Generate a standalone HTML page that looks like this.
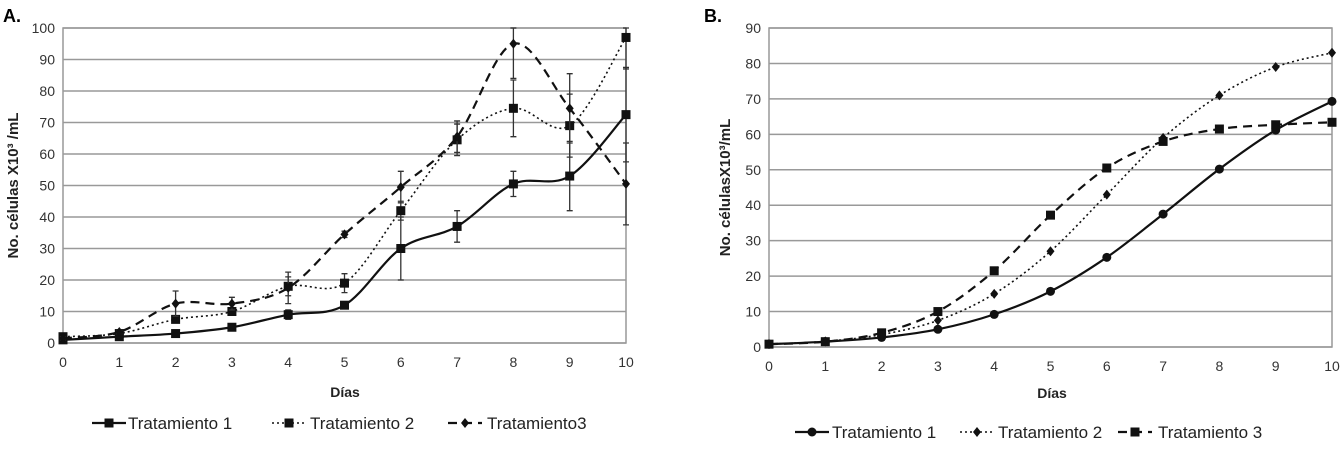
<!DOCTYPE html>
<html><head><meta charset="utf-8">
<style>
body{margin:0;background:#fff;width:1344px;height:454px;overflow:hidden;font-family:"Liberation Sans",sans-serif}
svg text{font-family:"Liberation Sans",sans-serif}
</style></head>
<body>
<svg id="svg" width="1344" height="454" xmlns="http://www.w3.org/2000/svg"></svg>
<script>
const days=[0,1,2,3,4,5,6,7,8,9,10];
const aT1=[1,2,3,5,9,12,30,37,50.5,53,72.5];
const aT1err=[0.5,0.5,0.5,1,1.5,1,10,5,4,11,15];
const aT2=[2,3,7.5,10,18,19,42,64.5,74.5,69,97];
const aT2err=[0.5,0.5,1,1,3,3,3,5,9,10,10];
const aT3=[1.5,3.5,12.5,12.5,17.5,34.5,49.5,65.5,95,74.5,50.5];
const aT3err=[0.5,0.5,4,2,5,1,5,5,11,11,13];
const aTicks=[0,10,20,30,40,50,60,70,80,90,100];
const bT1=[0.8,1.5,2.7,5,9.2,15.7,25.3,37.5,50.2,61.2,69.3];
const bT2=[0.8,1.6,3.5,7.5,15,27,43,59,71,79,83];
const bT3=[0.8,1.5,4,10,21.5,37.2,50.5,58,61.5,62.7,63.4];
const bTicks=[0,10,20,30,40,50,60,70,80,90];
const NS='http://www.w3.org/2000/svg';
const svg=document.getElementById('svg');
function mk(tag,attrs,parent,txt){const e=document.createElementNS(NS,tag);for(const k in attrs)e.setAttribute(k,attrs[k]);if(txt!==undefined)e.textContent=txt;(parent||svg).appendChild(e);return e;}
function smooth(pts){let d='M'+pts[0][0]+','+pts[0][1];for(let i=0;i<pts.length-1;i++){const p0=pts[i-1]||pts[i],p1=pts[i],p2=pts[i+1],p3=pts[i+2]||p2;const c1=[p1[0]+(p2[0]-p0[0])/6,p1[1]+(p2[1]-p0[1])/6],c2=[p2[0]-(p3[0]-p1[0])/6,p2[1]-(p3[1]-p1[1])/6];d+=' C'+c1+' '+c2+' '+p2;}return d;}
function marker(g,x,y,type,name){let m;if(type==='sq'){m=mk('rect',{x:x-4.5,y:y-4.5,width:9,height:9,fill:'#111'},g);}else if(type==='dot'){m=mk('circle',{cx:x,cy:y,r:4.5,fill:'#111'},g);}else{m=mk('path',{d:`M${x},${y-5}L${x+4},${y}L${x},${y+5}L${x-4},${y}Z`,fill:'#111'},g);}

}
function chart(cfg){
 const {x0,x1,y0,y1,ymax,ticks,series,label,ylab,title,legend,ylabX,xlabY,dlx}=cfg;
 const X=d=>x0+(x1-x0)*d/10, Y=v=>y0-(y0-y1)*v/ymax;
 const g=mk('g',{});
 
 
 mk('rect',{x:x0,y:y1,width:x1-x0,height:y0-y1,fill:'#fff',stroke:'#999','stroke-width':1.5},g);
 ticks.forEach(t=>{const l=mk('line',{x1:x0,x2:x1,y1:Y(t),y2:Y(t),stroke:'#999','stroke-width':1.5},g);
  
  const tx=mk('text',{x:x0-8,y:Y(t)+5,'text-anchor':'end','font-size':14,fill:'#333'},g,t);
  });
 days.forEach(d=>{const tx=mk('text',{x:X(d),y:y0+24,'text-anchor':'middle','font-size':14,fill:'#333'},g,d);
  });
 const xl=mk('text',{x:dlx,y:xlabY,'text-anchor':'middle','font-size':14,'font-weight':'bold',fill:'#222'},g,'Días');
 
 const yl=mk('text',{x:0,y:0,transform:`translate(${ylabX},${(y0+y1)/2}) rotate(-90)`,'text-anchor':'middle','font-size':15,'font-weight':'bold',fill:'#222'},g,ylab);
 
 const tt=mk('text',{x:label[0],y:label[1],'font-size':18,'font-weight':'bold',fill:'#000'},g,title);
 
 series.forEach((s,si)=>{
  const pts=s.vals.map((v,i)=>[X(days[i]),Y(v)]);
  const p=mk('path',{d:smooth(pts),fill:'none',stroke:'#111','stroke-width':s.w,'stroke-dasharray':s.dash},g);
  
  
  if(s.err)s.err.forEach((e,i)=>{const x=X(days[i]);const el=mk('path',{d:`M${x},${Y(s.vals[i]-e)}V${Y(Math.min(s.vals[i]+e,ymax))}M${x-3},${Y(s.vals[i]-e)}h6M${x-3},${Y(Math.min(s.vals[i]+e,ymax))}h6`,stroke:'#333','stroke-width':1.3},g);
   });
  pts.forEach(pt=>marker(g,pt[0],pt[1],s.m,'data-point'));
  const L=legend[si];
  const ll=mk('line',{x1:L[0],x2:L[0]+34,y1:L[2],y2:L[2],stroke:'#111','stroke-width':s.w,'stroke-dasharray':s.dash},g);
  
  marker(g,L[0]+17,L[2],s.m,'legend-marker');
  const lt=mk('text',{x:L[1],y:L[2]+6,'font-size':17,fill:'#222'},g,s.name);
  
 });
}
chart({name:'chart-a',x0:63,x1:626,y0:343,y1:28,ymax:100,ticks:aTicks,title:'A.',label:[3,22],ylab:'No. células X10³ /mL',ylabX:18,xlabY:397,dlx:345,
 series:[{vals:aT1,err:aT1err,m:'sq',w:2.2,dash:'',name:'Tratamiento 1'},{vals:aT2,err:aT2err,m:'sq',w:1.6,dash:'2,3',name:'Tratamiento 2'},{vals:aT3,err:aT3err,m:'dia',w:2.2,dash:'9,6',name:'Tratamiento3'}],
 legend:[[92,128,423],[272,310,423],[448,487,423]]});
chart({name:'chart-b',x0:769,x1:1332,y0:347,y1:28,ymax:90,ticks:bTicks,title:'B.',label:[704,22],ylab:'No. célulasX10³/mL',ylabX:730,xlabY:398,dlx:1052,
 series:[{vals:bT1,m:'dot',w:2.2,dash:'',name:'Tratamiento 1'},{vals:bT2,m:'dia',w:1.6,dash:'2,3',name:'Tratamiento 2'},{vals:bT3,m:'sq',w:2.2,dash:'9,6',name:'Tratamiento 3'}],
 legend:[[795,832,432],[960,998,432],[1118,1158,432]]});
</script>
</body></html>
